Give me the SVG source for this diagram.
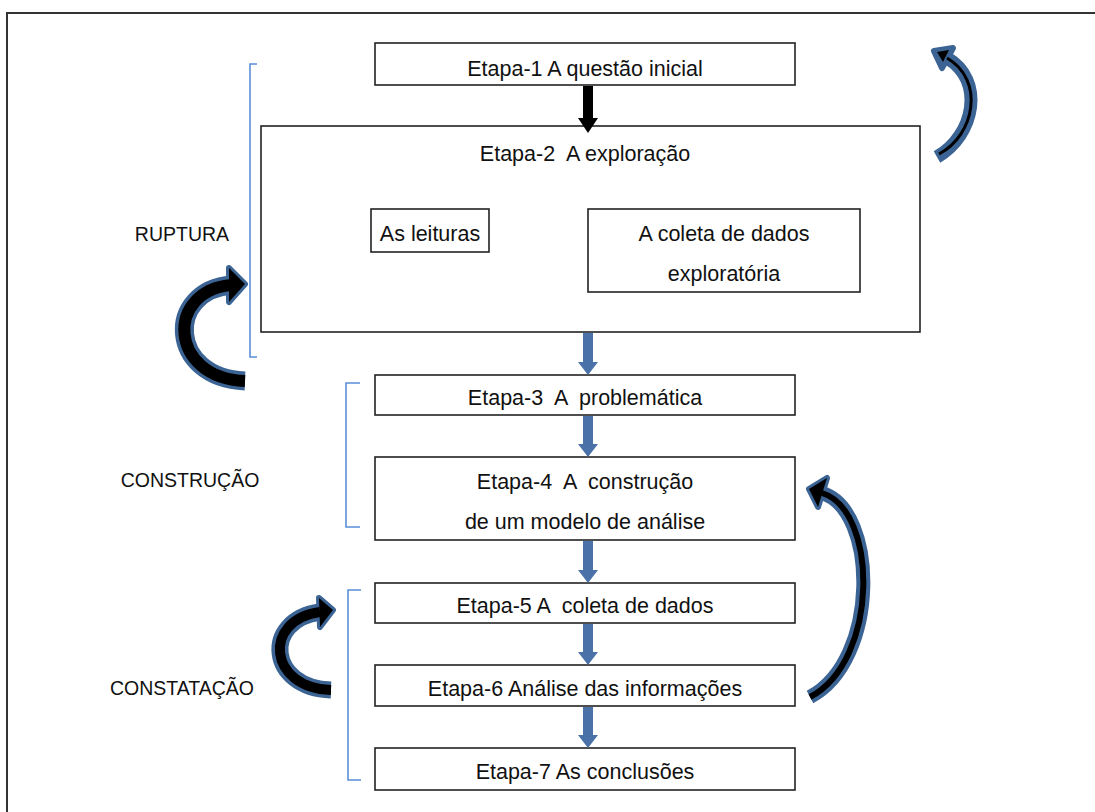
<svg xmlns="http://www.w3.org/2000/svg" width="1095" height="812" viewBox="0 0 1095 812">
<defs>
<style>
.box{fill:#fff;stroke:#222;stroke-width:1.6}
.t{font-family:"Liberation Sans",Arial,sans-serif;font-size:21.5px;fill:#111;text-anchor:middle}
.lab{font-size:19.5px}
.br{fill:none;stroke:#5b8fd6;stroke-width:1.6}
.sa{fill:#4a72a8}
.cbo{fill:none;stroke:#3b6494;stroke-linecap:butt}
.cbi{fill:none;stroke:#000;stroke-linecap:butt}
.cho{fill:#3b6494;stroke:#3b6494;stroke-width:6;stroke-linejoin:round}
.chi{fill:#000}
</style>
</defs>
<rect width="1095" height="812" fill="#fff"/>
<polyline points="7,812 7,13 1095,13" fill="none" stroke="#333" stroke-width="2"/>

<g id="brackets">
<polyline class="br" points="257,64 250,64 250,357 257,357"/>
<polyline class="br" points="360,383 346,383 346,527 360,527"/>
<polyline class="br" points="361,590 348,590 348,780 361,780"/>
</g>

<g id="labels">
<text class="t lab" x="182" y="241">RUPTURA</text>
<text class="t lab" x="190" y="487">CONSTRUÇÃO</text>
<text class="t lab" x="182" y="695">CONSTATAÇÃO</text>
</g>

<g id="etapa1"><rect class="box" x="375" y="43" width="420" height="42"/><text class="t" x="585" y="76">Etapa-1 A questão inicial</text></g>
<g id="etapa2"><rect class="box" x="261" y="126" width="659" height="206"/><text class="t" x="585" y="161" xml:space="preserve">Etapa-2  A exploração</text></g>
<g id="leituras"><rect class="box" x="371" y="209" width="118" height="43"/><text class="t" x="430" y="241">As leituras</text></g>
<g id="coleta-exp"><rect class="box" x="588" y="209" width="272" height="83"/><text class="t" x="724" y="241">A coleta de dados</text><text class="t" x="724" y="281">exploratória</text></g>
<g id="etapa3"><rect class="box" x="375" y="375" width="420" height="40"/><text class="t" x="585" y="405" xml:space="preserve">Etapa-3  A  problemática</text></g>
<g id="etapa4"><rect class="box" x="375" y="457" width="420" height="83"/><text class="t" x="585" y="489" xml:space="preserve">Etapa-4  A  construção</text><text class="t" x="585" y="529">de um modelo de análise</text></g>
<g id="etapa5"><rect class="box" x="375" y="583" width="420" height="40"/><text class="t" x="585" y="613" xml:space="preserve">Etapa-5 A  coleta de dados</text></g>
<g id="etapa6"><rect class="box" x="375" y="665" width="420" height="41"/><text class="t" x="585" y="696">Etapa-6 Análise das informações</text></g>
<g id="etapa7"><rect class="box" x="375" y="748" width="420" height="42"/><text class="t" x="585" y="779">Etapa-7 As conclusões</text></g>

<g id="connectors">
<path fill="#000" d="M583,86 H593 V118 H598 L588,133 L578,118 H583 Z"/>
<path class="sa" d="M583,333 H593 V362 H598 L588,375 L578,362 H583 Z"/>
<path class="sa" d="M583,416 H593 V444 H598 L588,457 L578,444 H583 Z"/>
<path class="sa" d="M583,541 H593 V570 H598 L588,583 L578,570 H583 Z"/>
<path class="sa" d="M583,624 H593 V652 H598 L588,665 L578,652 H583 Z"/>
<path class="sa" d="M583,707 H593 V735 H598 L588,748 L578,735 H583 Z"/>

<!-- top right curved arrow -->
<path class="cbo" stroke-width="13" d="M937,157 C975,135 985,80 947,58"/>
<polygon class="cho" points="934,51 953,48 942,68"/>
<path class="cbi" stroke-width="3" d="M939,154 C975,135 985,80 947,58"/>
<polygon class="chi" points="937,52 949,50 943,62"/>

<!-- left curved arrow (ruptura) -->
<path class="cbo" stroke-width="19" d="M245,381 C168,378 165,290 232,285"/>
<polygon class="cho" points="229,268 245,284 229,302"/>
<path class="cbi" stroke-width="12" d="M245,381 C168,378 165,290 232,285"/>
<polygon class="chi" points="229,268 245,284 229,302"/>

<!-- right big curved arrow -->
<path class="cbo" stroke-width="14" d="M810,697 C880,660 878,510 822,493"/>
<polygon class="cho" points="809,489 827,478 818,507"/>
<path class="cbi" stroke-width="6" d="M810,697 C880,660 878,510 822,493"/>
<polygon class="chi" points="809,489 827,478 818,507"/>

<!-- bottom left curved arrow -->
<path class="cbo" stroke-width="17" d="M331,690 C268,688 262,620 320,612"/>
<polygon class="cho" points="319,598 333,610 320,627"/>
<path class="cbi" stroke-width="10" d="M331,690 C268,688 262,620 320,612"/>
<polygon class="chi" points="319,598 333,610 320,627"/>
</g>
</svg>
